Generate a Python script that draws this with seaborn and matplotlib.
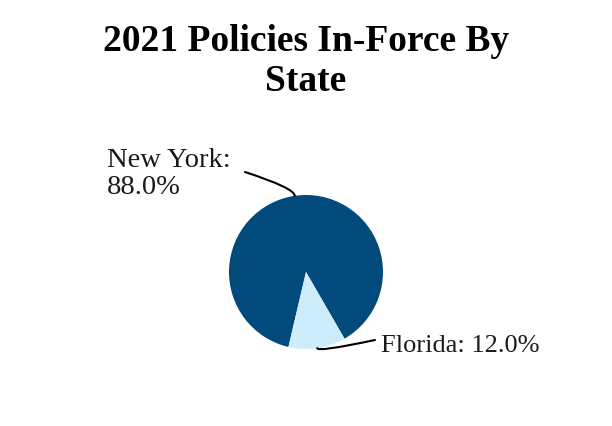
import numpy as np
import matplotlib
matplotlib.use("Agg")
import matplotlib.pyplot as plt
import seaborn as sns

# Data
states = ["New York", "Florida"]
shares = [88.0, 12.0]
colors = ["#034a7c", "#cdedfd"]

sns.set_theme(style="white")
plt.rcParams['font.family'] = ['Liberation Serif', 'DejaVu Serif']

fig = plt.figure(figsize=(6.12, 4.26), dpi=100)
ax = fig.add_axes([0, 0, 1, 1])

cx, cy, r = 306, 154, 77
wedges, _ = ax.pie(shares, colors=colors, startangle=300, counterclock=True,
                   center=(cx, cy), radius=r, frame=True,
                   wedgeprops=dict(linewidth=0))
ax.set_xlim(0, 612)
ax.set_ylim(0, 426)
ax.set_aspect("equal")
ax.axis("off")

# label text, text anchor, font size, connector end, connector style
label_text = [f"{states[0]}:\n{shares[0]:.1f}%",
              f"{states[1]}: {shares[1]:.1f}%"]
text_pos = [(107, 252), (381, 80)]
text_size = [20.5, 19]
line_end = [(245, 254), (375, 86)]
conn = ["angle3,angleA=-18,angleB=90", "angle3,angleA=12,angleB=90"]

for w, txt, tp, fs, le, cs in zip(wedges, label_text, text_pos, text_size,
                                  line_end, conn):
    mid = np.deg2rad((w.theta1 + w.theta2) / 2)
    edge = (cx + r * np.cos(mid), cy + r * np.sin(mid))
    ax.annotate("", xy=edge, xytext=le,
                arrowprops=dict(arrowstyle="-", color="black", lw=1.5,
                                connectionstyle=cs, shrinkA=0, shrinkB=0))
    ax.text(tp[0], tp[1], txt, ha="left", va="center", fontsize=fs,
            color="#1a1a1a", linespacing=1.1)

fig.text(0.5, 1 - 24 / 426, "2021 Policies In-Force By\nState", ha="center",
         va="top", fontsize=27, fontweight="bold", color="black",
         linespacing=1.17)

fig.savefig("out.png", dpi=100, facecolor="white")
